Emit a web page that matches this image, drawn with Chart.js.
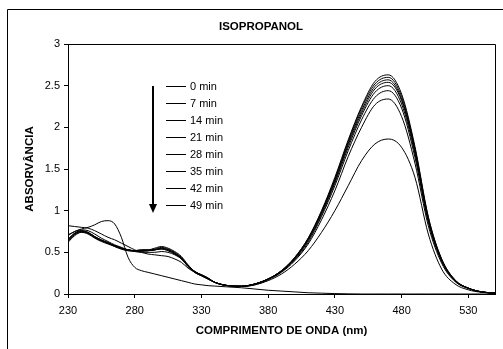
<!DOCTYPE html>
<html>
<head>
<meta charset="utf-8">
<script src="https://cdn.jsdelivr.net/npm/chart.js@4/dist/chart.umd.min.js"></script>
<style>
  html, body { margin: 0; padding: 0; background: #fff; }
  #wrap { width: 503px; height: 349px; }
</style>
</head>
<body>
<div id="wrap"><canvas id="spectra" width="503" height="349"></canvas></div>
<script>
const wavelengths = [230, 235, 240, 245, 250, 255, 260, 265, 270, 275, 280, 285, 290, 295, 300, 305, 310, 315, 320, 325, 330, 335, 340,
  350, 360, 370, 380, 390, 400, 410, 420, 430, 440, 450, 460, 470, 480, 490, 500, 510, 520, 530, 540, 550];

const labels = ["0 min", "7 min", "14 min", "21 min", "28 min", "35 min", "42 min", "49 min"];

const abs0 = [0.66, 0.73, 0.76, 0.74, 0.69, 0.65, 0.62, 0.58, 0.55, 0.53, 0.52, 0.53, 0.53, 0.55, 0.57, 0.55, 0.51, 0.45, 0.35, 0.27, 0.23, 0.19, 0.14,
  0.10, 0.095, 0.12, 0.18, 0.28, 0.44, 0.67, 1.00, 1.40, 1.85, 2.25, 2.55, 2.63, 2.40, 1.77, 0.93, 0.42, 0.17, 0.07, 0.026, 0.01];
const abs7 = [0.63, 0.71, 0.74, 0.73, 0.68, 0.64, 0.61, 0.58, 0.55, 0.53, 0.52, 0.53, 0.53, 0.54, 0.56, 0.54, 0.50, 0.44, 0.34, 0.27, 0.23, 0.19, 0.14,
  0.10, 0.095, 0.12, 0.18, 0.28, 0.44, 0.67, 0.99, 1.38, 1.83, 2.23, 2.52, 2.60, 2.37, 1.75, 0.92, 0.42, 0.17, 0.07, 0.026, 0.01];
const abs14 = [0.62, 0.70, 0.74, 0.72, 0.67, 0.63, 0.60, 0.57, 0.54, 0.52, 0.52, 0.52, 0.52, 0.53, 0.55, 0.53, 0.49, 0.43, 0.34, 0.27, 0.23, 0.19, 0.14,
  0.10, 0.095, 0.12, 0.18, 0.28, 0.43, 0.66, 0.98, 1.37, 1.81, 2.20, 2.49, 2.57, 2.34, 1.73, 0.90, 0.41, 0.16, 0.07, 0.025, 0.01];
const abs21 = [0.64, 0.72, 0.75, 0.73, 0.68, 0.64, 0.61, 0.57, 0.54, 0.52, 0.51, 0.51, 0.52, 0.53, 0.54, 0.52, 0.48, 0.43, 0.33, 0.26, 0.22, 0.18, 0.14,
  0.10, 0.09, 0.12, 0.18, 0.27, 0.43, 0.65, 0.97, 1.35, 1.79, 2.17, 2.46, 2.54, 2.32, 1.71, 0.89, 0.41, 0.16, 0.07, 0.025, 0.01];
const abs28 = [0.64, 0.72, 0.75, 0.73, 0.68, 0.64, 0.61, 0.58, 0.55, 0.53, 0.52, 0.52, 0.52, 0.53, 0.55, 0.53, 0.49, 0.43, 0.34, 0.27, 0.23, 0.19, 0.14,
  0.10, 0.095, 0.12, 0.18, 0.27, 0.42, 0.64, 0.95, 1.33, 1.76, 2.14, 2.42, 2.50, 2.28, 1.68, 0.88, 0.40, 0.16, 0.07, 0.025, 0.01];
const abs35 = [0.65, 0.73, 0.76, 0.74, 0.69, 0.65, 0.61, 0.58, 0.55, 0.53, 0.52, 0.52, 0.52, 0.53, 0.54, 0.52, 0.48, 0.42, 0.33, 0.26, 0.22, 0.18, 0.14,
  0.10, 0.09, 0.12, 0.18, 0.27, 0.41, 0.62, 0.93, 1.30, 1.72, 2.09, 2.36, 2.44, 2.23, 1.64, 0.86, 0.39, 0.16, 0.07, 0.025, 0.01];
const abs42 = [0.70, 0.75, 0.77, 0.76, 0.72, 0.67, 0.63, 0.59, 0.56, 0.53, 0.51, 0.50, 0.50, 0.50, 0.51, 0.50, 0.47, 0.42, 0.33, 0.26, 0.22, 0.18, 0.14,
  0.10, 0.09, 0.11, 0.17, 0.26, 0.40, 0.60, 0.89, 1.24, 1.65, 2.00, 2.27, 2.34, 2.13, 1.57, 0.82, 0.37, 0.15, 0.065, 0.023, 0.01];
const abs49 = [0.82, 0.81, 0.80, 0.79, 0.76, 0.72, 0.68, 0.65, 0.61, 0.57, 0.53, 0.50, 0.48, 0.47, 0.46, 0.45, 0.42, 0.38, 0.31, 0.26, 0.22, 0.18, 0.14,
  0.10, 0.09, 0.11, 0.16, 0.24, 0.36, 0.52, 0.74, 1.00, 1.30, 1.60, 1.80, 1.86, 1.76, 1.40, 0.72, 0.30, 0.12, 0.05, 0.02, 0.01];
// extra trace without a legend entry (band near 260 nm)
const absRef = [0.71, 0.75, 0.78, 0.80, 0.83, 0.87, 0.88, 0.84, 0.68, 0.44, 0.32, 0.28, 0.26, 0.24, 0.22, 0.20, 0.18, 0.16, 0.14, 0.12, 0.11, 0.10, 0.095,
  0.085, 0.075, 0.06, 0.045, 0.035, 0.025, 0.015, 0.01, 0.005, 0.002, 0, 0, 0, 0, 0, 0, 0, 0, 0, 0, 0];

const xTicks = [230, 280, 330, 380, 430, 480, 530];
const series = [abs0, abs7, abs14, abs21, abs28, abs35, abs42, abs49];

const FONT = '"Liberation Sans", Arial, sans-serif';

function toPoints(values) {
  return values.map((v, i) => ({ x: wavelengths[i], y: v }));
}

const datasets = series.map((vals, i) => ({
  label: labels[i],
  data: toPoints(vals),
}));
datasets.push({ label: "", data: toPoints(absRef) });

const decor = {
  id: "decor",
  afterDraw(chart) {
    const ctx = chart.ctx;
    const a = chart.chartArea;
    ctx.save();
    ctx.strokeStyle = "#000";
    ctx.fillStyle = "#000";
    ctx.lineWidth = 1;

    // outer frame (cut off at right and bottom)
    ctx.beginPath();
    ctx.moveTo(7.5, 349);
    ctx.lineTo(7.5, 9.5);
    ctx.lineTo(503, 9.5);
    ctx.stroke();

    // top and right of plot box
    ctx.beginPath();
    ctx.moveTo(a.left, Math.round(a.top) + 0.5);
    ctx.lineTo(Math.round(a.right) + 0.5, Math.round(a.top) + 0.5);
    ctx.lineTo(Math.round(a.right) + 0.5, a.bottom);
    ctx.stroke();

    // title
    ctx.font = "bold 11.5px " + FONT;
    ctx.textAlign = "center";
    ctx.textBaseline = "middle";
    ctx.fillText("ISOPROPANOL", 261, 27);

    // legend inside plot
    ctx.font = "11px " + FONT;
    ctx.textAlign = "left";
    chart.data.datasets.forEach((ds, i) => {
      if (!ds.label) return;
      const y = 86.5 + i * 17;
      ctx.beginPath();
      ctx.moveTo(166, y);
      ctx.lineTo(186, y);
      ctx.stroke();
      ctx.fillText(ds.label, 190, y);
    });

    // arrow
    ctx.lineWidth = 2;
    ctx.beginPath();
    ctx.moveTo(153, 86);
    ctx.lineTo(153, 206);
    ctx.stroke();
    ctx.beginPath();
    ctx.moveTo(149, 204);
    ctx.lineTo(157, 204);
    ctx.lineTo(153, 213);
    ctx.closePath();
    ctx.fill();
    ctx.restore();
  }
};

new Chart(document.getElementById("spectra").getContext("2d"), {
  type: "line",
  data: { datasets },
  options: {
    responsive: false,
    animation: false,
    events: [],
    layout: { padding: { left: 23, top: 44, right: 8, bottom: 0 } },
    elements: {
      point: { radius: 0 },
      line: { borderColor: "#000", borderWidth: 1, cubicInterpolationMode: "monotone", fill: false }
    },
    plugins: {
      legend: { display: false },
      title: { display: false },
      tooltip: { enabled: false }
    },
    scales: {
      x: {
        type: "linear",
        min: 230,
        max: 550,
        afterBuildTicks: (axis) => { axis.ticks = xTicks.map((v) => ({ value: v })); },
        afterFit: (scale) => { scale.height = 55; },
        grid: { drawOnChartArea: false, drawTicks: true, tickLength: 4, color: "#000" },
        border: { color: "#000", width: 1 },
        ticks: { color: "#000", font: { family: FONT, size: 11 }, padding: 6, maxRotation: 0, autoSkip: false },
        title: {
          display: true,
          text: "COMPRIMENTO DE ONDA (nm)",
          color: "#000",
          font: { family: FONT, size: 11.5, weight: "bold" },
          padding: { top: 0, bottom: 11 }
        }
      },
      y: {
        min: 0,
        max: 3,
        afterFit: (scale) => { scale.width = 45; },
        grid: { drawOnChartArea: false, drawTicks: true, tickLength: 4, color: "#000" },
        border: { color: "#000", width: 1 },
        ticks: {
          stepSize: 0.5,
          color: "#000",
          font: { family: FONT, size: 11 },
          padding: 4,
          callback: (value) => String(value)
        },
        title: {
          display: true,
          text: "ABSORVÂNCIA",
          color: "#000",
          font: { family: FONT, size: 11.5, weight: "bold" },
          padding: { top: 0, bottom: 0 }
        }
      }
    }
  },
  plugins: [decor]
});
</script>
</body>
</html>
